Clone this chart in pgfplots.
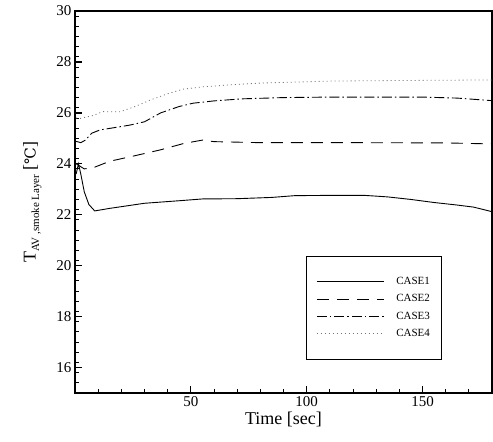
\documentclass[border=0pt]{standalone}
\usepackage{pgfplots}
\pgfplotsset{compat=1.18}
\usetikzlibrary{calc}
\usepackage{fontspec}
\setmainfont{Liberation Serif}
\newfontfamily\djv{DejaVu Serif}

\begin{document}
\begin{tikzpicture}
\begin{axis}[name=ax, scale only axis, width=417pt, height=382pt,
  xmin=0, xmax=180, ymin=15, ymax=30,
  xtick={50,100,150}, ytick={16,18,...,30},
  minor xtick={10,20,...,180}, minor ytick={15.4,15.8,...,29.8},
  xtick pos=left, ytick pos=left, tick align=inside,
  major tick length=7pt, minor tick length=4pt,
  every tick/.style={black, line width=1.3pt},
  minor tick style={line width=0.9pt},
  axis line style={line width=1.5pt},
  /pgf/number format/assume math mode=true,
  tick label style={font=\fontsize{15}{15}\selectfont},
  label style={font=\fontsize{18}{18}\selectfont},
  xlabel={Time [sec]},
  ylabel={T\raisebox{-0.45ex}{\fontsize{11}{11}\selectfont AV ,smoke Layer} [{\djv\fontsize{15}{15}\selectfont ℃}]},
  xlabel style={yshift=2pt},
  ylabel style={yshift=8pt},
  legend style={at={(axis cs:99.7,20.38)}, anchor=north west, draw=black, line width=0.8pt,
    font=\fontsize{11}{11}\selectfont, inner xsep=10pt, inner ysep=19pt, row sep=4.5pt,
    cells={anchor=west}},
  legend image code/.code={\draw[#1, line width=0.9pt] (0pt,0pt) -- (67pt,0pt);},
  /tikz/every odd column/.append style={column sep=10pt},
]
\addplot[black, line width=0.9pt] coordinates {
(0.5,23.6) (1.5,24.0) (2.5,23.6) (4,22.9) (6,22.4) (8.5,22.15) (15,22.25) (30,22.45)
(45,22.55) (55,22.62) (70,22.63) (85,22.68) (95,22.75) (110,22.76) (125,22.76) (135,22.7)
(145,22.6) (155,22.48) (165,22.38) (172,22.3) (180,22.12)};
\addplot[black, line width=0.9pt, dash pattern=on 12pt off 8pt] coordinates {
(0.5,24.0) (4,23.8) (8,23.85) (15,24.1) (25,24.3) (37,24.55) (47,24.8) (55,24.93)
(60,24.87) (80,24.83) (120,24.83) (160,24.82) (180,24.78)};
\addplot[black, line width=0.9pt, dash pattern=on 10pt off 3pt on 1.5pt off 3pt] coordinates {
(0.5,24.88) (2.5,24.83) (4.5,24.93) (7.2,25.2) (10.8,25.33) (17,25.42) (23.7,25.52) (30,25.65)
(37,26.0) (45,26.25) (51,26.38) (60,26.47) (72,26.55) (90,26.6) (110,26.62) (130,26.62)
(150,26.62) (165,26.58) (180,26.48)};
\addplot[black!55, line width=0.8pt, dash pattern=on 1pt off 3pt] coordinates {
(0.5,25.8) (2.2,25.78) (8,25.9) (12,26.05) (19.4,26.04) (26,26.25) (32.4,26.5) (40,26.75)
(46.6,26.93) (55,27.02) (65.5,27.09) (80,27.17) (111,27.25) (140,27.27) (173.5,27.29) (180,27.29)};
\legend{\makebox[33pt][l]{CASE1},CASE2,CASE3,CASE4}
\end{axis}
\path ($(ax.south west)+(-75pt,-49pt)$) rectangle ($(ax.north east)+(1pt,11pt)$);
\end{tikzpicture}
\end{document}
